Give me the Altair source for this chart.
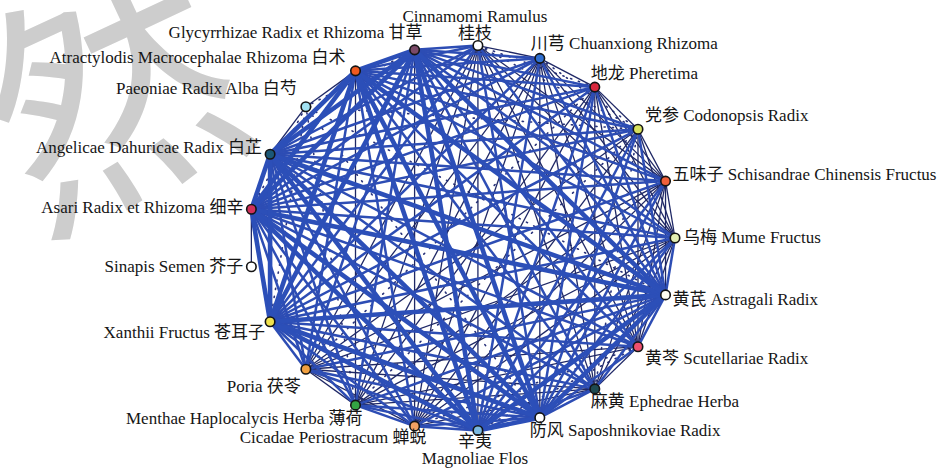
import math

import altair as alt
import pandas as pd

W, H = 945, 470

# ---- herbs (circular order, clockwise from the top) ----
herbs_cn = ["甘草", "桂枝", "川芎", "地龙", "党参", "五味子", "乌梅", "黄芪", "黄芩", "麻黄",
            "防风", "辛夷", "蝉蜕", "薄荷", "茯苓", "苍耳子", "芥子", "细辛", "白芷", "白芍", "白术"]
herbs_en = ["Glycyrrhizae Radix et Rhizoma", "Cinnamomi Ramulus", "Chuanxiong Rhizoma",
            "Pheretima", "Codonopsis Radix", "Schisandrae Chinensis Fructus", "Mume Fructus",
            "Astragali Radix", "Scutellariae Radix", "Ephedrae Herba", "Saposhnikoviae Radix",
            "Magnoliae Flos", "Cicadae Periostracum", "Menthae Haplocalycis Herba", "Poria",
            "Xanthii Fructus", "Sinapis Semen", "Asari Radix et Rhizoma",
            "Angelicae Dahuricae Radix", "Paeoniae Radix Alba",
            "Atractylodis Macrocephalae Rhizoma"]
node_fill = ["#7b4a68", "#ffffff", "#2f6fd0", "#d8283c", "#d6e05e", "#f0603a", "#e2edb2",
             "#fffdf0", "#f0506e", "#1e4a50", "#ffffff", "#7ab8e0", "#f2a062", "#34a444",
             "#f0a040", "#f0e24e", "#ffffff", "#d0305a", "#1b5878", "#a2e2f2", "#f05a20"]

# ---- co-occurrence links, upper triangle (row i lists herbs i+1 .. 20) ----
# 3 = strong, 2 = medium, 1 = weak, . = occasional, 0 = none
link_codes = [
    "22222232233122303 3.3".replace(" ", ""),
    "1..1121121111202202",
    "1.1121112111202202",
    "1112112211.202202",
    "1121.221.12022.2",
    "111122111202202",
    "21122111202202",
    "22332223033.3",
    "12..11202202",
    "22111202202",
    "32223033.3",
    "222303303",
    "21202202",
    "12022.1",
    "202202",
    "033.3",
    "1000",
    "3.3",
    "13",
    "1",
]

# ---- label placement: side and pixel offset from the node ----
label_side = ["L", "C", "R", "R", "R", "R", "R", "R", "R", "R",
              "R", "C", "L", "L", "L", "L", "L", "L", "L", "L", "L"]
label_dx = [8, -3, -9, -4, 7, 7, 8, 7, 7, -4, -10, -3, 12, 7, -5, -5, -8, -8, -8, -9, -10]
label_dy = [-17, -20, -14, -13, -13, -6, 0, 5, 12, 13, 13, 20, 12, 14, 18, 11, 0, -1, -6, -18, -13]
line_gap = 17

# ---- circular layout ----
cx, cy, rx, ry = 462, 238, 213, 193
n = len(herbs_cn)
step = 360 / n
pos = []
for k in range(n):
    th = math.radians(90 + (k - 6) * step)
    pos.append((cx + rx * math.sin(th), cy - ry * math.cos(th)))

nodes = pd.DataFrame({
    "x": [p[0] for p in pos],
    "y": [p[1] for p in pos],
    "fill": node_fill,
    "herb": herbs_cn,
})

edge_rows = []
for i, codes in enumerate(link_codes):
    for off, c in enumerate(codes):
        j = i + 1 + off
        if c == "0":
            continue
        edge_rows.append({"x": pos[i][0], "y": pos[i][1], "x2": pos[j][0], "y2": pos[j][1],
                          "kind": c, "pair": herbs_cn[i] + "-" + herbs_cn[j]})
edges = pd.DataFrame(edge_rows)

label_rows = []
for k in range(n):
    x0, y0 = pos[k][0] + label_dx[k], pos[k][1] + label_dy[k]
    side = label_side[k]
    if side == "L":
        label_rows.append({"x": x0, "y": y0, "text": herbs_en[k] + " " + herbs_cn[k], "align": "right"})
    elif side == "R":
        label_rows.append({"x": x0, "y": y0, "text": herbs_cn[k] + " " + herbs_en[k], "align": "left"})
    else:
        if y0 < cy:
            lines = [herbs_en[k], herbs_cn[k]]
        else:
            lines = [herbs_cn[k], herbs_en[k]]
        label_rows.append({"x": x0, "y": y0 - line_gap / 2, "text": lines[0], "align": "center"})
        label_rows.append({"x": x0, "y": y0 + line_gap / 2, "text": lines[1], "align": "center"})
labels = pd.DataFrame(label_rows)

xs = alt.Scale(domain=[0, W], range=[0, W])
ys = alt.Scale(domain=[0, H], range=[0, H])
X = alt.X("x:Q", scale=xs, axis=None)
Y = alt.Y("y:Q", scale=ys, axis=None)

FONT = "Liberation Serif, Noto Sans CJK SC"

# faint seal-like mark in the upper-left corner
seal_text = pd.DataFrame({"x": [118], "y": [112], "t": ["然"]})
seal = alt.Chart(seal_text).mark_text(
    fontSize=250, font="Noto Sans CJK SC", fontWeight="normal", color="#cdcdcd",
    angle=335, baseline="middle", align="center"
).encode(x=X, y=Y, text="t:N")


def edge_layer(kind, **style):
    return alt.Chart(edges).transform_filter(alt.datum.kind == kind).mark_rule(**style).encode(
        x=X, y=Y, x2="x2:Q", y2="y2:Q"
    )


dotted = edge_layer(".", color="#28327a", strokeWidth=1.6, strokeDash=[1.2, 7], strokeCap="round")
thin = edge_layer("1", color="#1f2866", strokeWidth=1.3)
medium = edge_layer("2", color="#2d4db4", strokeWidth=2.5)
thick = edge_layer("3", color="#2c4fb8", strokeWidth=4.6)

node_layer = alt.Chart(nodes).mark_circle(
    size=90, opacity=1, stroke="#141414", strokeWidth=1.6
).encode(x=X, y=Y, fill=alt.Fill("fill:N", scale=None))


def label_layer(align):
    return alt.Chart(labels).transform_filter(alt.datum.align == align).mark_text(
        align=align, baseline="middle", font=FONT, fontSize=17, color="#151515"
    ).encode(x=X, y=Y, text="text:N")


chart = alt.layer(
    seal, dotted, thin, medium, thick, node_layer,
    label_layer("left"), label_layer("right"), label_layer("center"),
).properties(
    width=W, height=H, autosize=alt.AutoSizeParams(type="none"), padding=0,
    background="#ffffff",
).configure_view(stroke=None)

chart.save("out.html", embed_options={"renderer": "svg", "actions": False})
